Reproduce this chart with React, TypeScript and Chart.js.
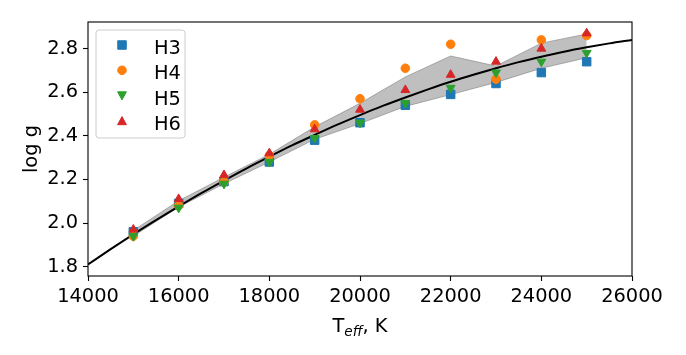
import React, { useEffect, useRef } from 'react';
import { Chart, registerables } from 'chart.js';

Chart.register(...registerables);

// ---- data ----
const temps = [15000, 16000, 17000, 18000, 19000, 20000, 21000, 22000, 23000, 24000, 25000];
const h3 = [1.96, 2.09, 2.19, 2.28, 2.38, 2.46, 2.54, 2.59, 2.64, 2.69, 2.74];
const h4 = [1.94, 2.08, 2.19, 2.31, 2.45, 2.57, 2.71, 2.82, 2.66, 2.84, 2.86];
const h5 = [1.94, 2.07, 2.18, 2.28, 2.39, 2.46, 2.55, 2.62, 2.69, 2.74, 2.78];
const h6 = [1.97, 2.11, 2.22, 2.32, 2.43, 2.52, 2.61, 2.68, 2.74, 2.80, 2.87];
const bandLow = [1.940, 2.073, 2.180, 2.280, 2.384, 2.456, 2.535, 2.589, 2.645, 2.710, 2.758];
const bandHigh = [1.966, 2.102, 2.210, 2.315, 2.441, 2.549, 2.670, 2.766, 2.720, 2.825, 2.867];
const fitT = [14000, 14500, 15000, 15500, 16000, 16500, 17000, 17500, 18000, 18500, 19000, 19500, 20000,
  20500, 21000, 21500, 22000, 22500, 23000, 23500, 24000, 24500, 25000, 25500, 26000];
const fitLogg = [1.810, 1.880, 1.948, 2.013, 2.076, 2.137, 2.195, 2.251, 2.304, 2.356, 2.404, 2.451, 2.495,
  2.537, 2.576, 2.613, 2.648, 2.680, 2.710, 2.738, 2.763, 2.786, 2.806, 2.824, 2.840];
const xTicks = [14000, 16000, 18000, 20000, 22000, 24000, 26000];
const yTicks = [1.8, 2.0, 2.2, 2.4, 2.6, 2.8];
const seriesNames = ['H3', 'H4', 'H5', 'H6'];
const seriesColors = ['#1f77b4', '#ff7f0e', '#2ca02c', '#d62728'];

const FONT = '"DejaVu Sans", sans-serif';
const FS = 19.4;

const pts = (xs: number[], ys: number[]) => xs.map((x, i) => ({ x, y: ys[i] }));

function drawMarker(ctx: CanvasRenderingContext2D, kind: string, x: number, y: number, color: string) {
  ctx.save();
  ctx.fillStyle = color;
  ctx.strokeStyle = color;
  ctx.lineWidth = 1;
  ctx.beginPath();
  if (kind === 'rect') {
    ctx.rect(x - 4.25, y - 4.25, 8.5, 8.5);
  } else if (kind === 'circle') {
    ctx.arc(x, y, 4.3, 0, Math.PI * 2);
  } else if (kind === 'up') {
    ctx.moveTo(x, y - 4.3);
    ctx.lineTo(x + 4.4, y + 3.8);
    ctx.lineTo(x - 4.4, y + 3.8);
    ctx.closePath();
  } else {
    ctx.moveTo(x, y + 4.3);
    ctx.lineTo(x + 4.4, y - 3.8);
    ctx.lineTo(x - 4.4, y - 3.8);
    ctx.closePath();
  }
  ctx.fill();
  ctx.stroke();
  ctx.restore();
}

const decorPlugin = {
  id: 'decor',
  afterDraw(chart: any) {
    const { ctx, chartArea: a } = chart;
    ctx.save();
    // frame (all four spines)
    ctx.strokeStyle = '#000';
    ctx.lineWidth = 1.1;
    ctx.strokeRect(a.left, a.top, a.right - a.left, a.bottom - a.top);

    // legend
    const bx = 96, by = 30, bw = 89, bh = 108, r = 3;
    ctx.beginPath();
    ctx.moveTo(bx + r, by);
    ctx.lineTo(bx + bw - r, by);
    ctx.arcTo(bx + bw, by, bx + bw, by + r, r);
    ctx.lineTo(bx + bw, by + bh - r);
    ctx.arcTo(bx + bw, by + bh, bx + bw - r, by + bh, r);
    ctx.lineTo(bx + r, by + bh);
    ctx.arcTo(bx, by + bh, bx, by + bh - r, r);
    ctx.lineTo(bx, by + r);
    ctx.arcTo(bx, by, bx + r, by, r);
    ctx.closePath();
    ctx.fillStyle = 'rgba(255,255,255,0.8)';
    ctx.fill();
    ctx.strokeStyle = '#cccccc';
    ctx.lineWidth = 1;
    ctx.stroke();
    const kinds = ['rect', 'circle', 'down', 'up'];
    ctx.font = `${FS}px ${FONT}`;
    ctx.fillStyle = '#000';
    ctx.textAlign = 'left';
    ctx.textBaseline = 'alphabetic';
    seriesNames.forEach((name, i) => {
      const cy = 45 + i * 25.3;
      drawMarker(ctx, kinds[i], 122, cy, seriesColors[i]);
      ctx.fillStyle = '#000';
      ctx.fillText(name, 154, cy + 9);
    });

    // x axis title: T_eff, K
    const cx = (a.left + a.right) / 2;
    const base = 332;
    ctx.font = `${FS}px ${FONT}`;
    const wT = ctx.measureText('T').width;
    const wK = ctx.measureText(', K').width;
    ctx.font = `italic ${FS * 0.7}px ${FONT}`;
    const wE = ctx.measureText('eff').width;
    let x0 = cx - (wT + wE + wK) / 2;
    ctx.fillStyle = '#000';
    ctx.font = `${FS}px ${FONT}`;
    ctx.fillText('T', x0, base);
    x0 += wT;
    ctx.font = `italic ${FS * 0.7}px ${FONT}`;
    ctx.fillText('eff', x0, base + 4);
    x0 += wE;
    ctx.font = `${FS}px ${FONT}`;
    ctx.fillText(', K', x0, base);
    ctx.restore();
  },
};

export default function App() {
  const ref = useRef<HTMLCanvasElement>(null);
  useEffect(() => {
    if (!ref.current) return;
    const band = 'rgba(128,128,128,0.5)';
    const chart = new Chart(ref.current, {
      type: 'scatter',
      data: {
        datasets: [
          {
            label: 'bandLow',
            data: pts(temps, bandLow),
            showLine: true,
            borderColor: 'rgba(128,128,128,0.6)',
            borderWidth: 1,
            pointRadius: 0,
            tension: 0,
            fill: false,
            order: 7,
          },
          {
            label: 'bandHigh',
            data: pts(temps, bandHigh),
            showLine: true,
            borderColor: 'rgba(128,128,128,0.6)',
            backgroundColor: band,
            borderWidth: 1,
            pointRadius: 0,
            tension: 0,
            fill: '-1',
            order: 6,
          },
          {
            label: 'fit',
            data: pts(fitT, fitLogg),
            showLine: true,
            borderColor: '#000',
            borderWidth: 2,
            pointRadius: 0,
            cubicInterpolationMode: 'monotone',
            fill: false,
            order: 5,
          },
          {
            label: 'H3',
            data: pts(temps, h3),
            pointStyle: 'rect',
            pointRadius: 6,
            backgroundColor: seriesColors[0],
            borderColor: seriesColors[0],
            borderWidth: 1,
            order: 4,
          },
          {
            label: 'H4',
            data: pts(temps, h4),
            pointStyle: 'circle',
            pointRadius: 4.3,
            backgroundColor: seriesColors[1],
            borderColor: seriesColors[1],
            borderWidth: 1,
            order: 3,
          },
          {
            label: 'H5',
            data: pts(temps, h5),
            pointStyle: 'triangle',
            pointRotation: 180,
            pointRadius: 5.1,
            backgroundColor: seriesColors[2],
            borderColor: seriesColors[2],
            borderWidth: 1,
            order: 2,
          },
          {
            label: 'H6',
            data: pts(temps, h6),
            pointStyle: 'triangle',
            pointRadius: 5.1,
            backgroundColor: seriesColors[3],
            borderColor: seriesColors[3],
            borderWidth: 1,
            order: 1,
          },
        ] as any,
      },
      options: {
        animation: false,
        responsive: false,
        devicePixelRatio: 1,
        layout: { padding: { top: 22, right: 54, left: 0, bottom: 0 } },
        plugins: { legend: { display: false }, tooltip: { enabled: false } },
        scales: {
          x: {
            type: 'linear',
            min: 14000,
            max: 26000,
            afterBuildTicks: (s: any) => { s.ticks = xTicks.map((v) => ({ value: v })); },
            afterFit: (s: any) => { s.height = 79; },
            border: { display: false },
            grid: { drawOnChartArea: false, drawTicks: true, tickLength: 5, tickColor: '#000', tickWidth: 1.1 },
            ticks: {
              color: '#000',
              padding: 4,
              maxRotation: 0,
              autoSkip: false,
              font: { family: FONT, size: FS },
              callback: (v: any) => String(v),
            },
          },
          y: {
            type: 'linear',
            min: 1.757,
            max: 2.922,
            afterBuildTicks: (s: any) => { s.ticks = yTicks.map((v) => ({ value: v })); },
            afterFit: (s: any) => { s.width = 88; },
            border: { display: false },
            grid: { drawOnChartArea: false, drawTicks: true, tickLength: 5, tickColor: '#000', tickWidth: 1.1 },
            title: {
              display: true,
              text: 'log g',
              color: '#000',
              font: { family: FONT, size: FS },
              padding: { top: 20, bottom: 0 },
            },
            ticks: {
              color: '#000',
              padding: 5,
              autoSkip: false,
              font: { family: FONT, size: FS },
              callback: (v: any) => Number(v).toFixed(1),
            },
          },
        },
      } as any,
      plugins: [decorPlugin],
    });
    return () => chart.destroy();
  }, []);
  return (
    <div style={{ position: 'fixed', left: 0, top: 0, width: 686, height: 355, background: '#fff' }}>
      <canvas ref={ref} width={686} height={355} style={{ display: 'block' }} />
    </div>
  );
}
